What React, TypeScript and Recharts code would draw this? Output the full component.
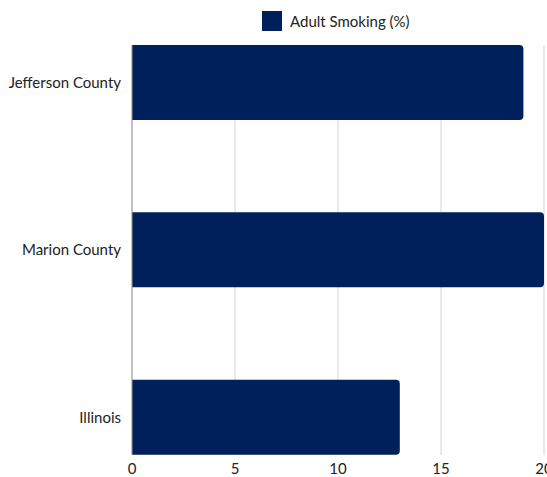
import { BarChart, Bar, XAxis, YAxis, CartesianGrid } from "recharts";

const COUNTIES = ["Jefferson County", "Marion County", "Illinois"];
const SMOKING = [19, 20, 13];
const X_TICKS = [0, 5, 10, 15, 20];

const BAR_COLOR = "#00205b";
const FONT = "Lato, 'Open Sans', sans-serif";

const data = COUNTIES.map((name, i) => ({ name, value: SMOKING[i] }));

export default function App() {
  return (
    <div
      style={{
        position: "absolute",
        left: 0,
        top: 0,
        width: 547,
        height: 477,
        overflow: "hidden",
        background: "#fff",
        fontFamily: FONT,
      }}
    >
      {/* legend */}
      <div
        style={{
          position: "absolute",
          left: 262,
          top: 11,
          display: "flex",
          alignItems: "center",
          fontSize: 15,
          color: "#222",
        }}
      >
        <span
          style={{
            display: "inline-block",
            width: 20,
            height: 20,
            background: BAR_COLOR,
            marginRight: 8,
          }}
        />
        Adult Smoking (%)
      </div>

      <BarChart
        width={570}
        height={477}
        data={data}
        layout="vertical"
        margin={{ top: 45, right: 26, bottom: 0, left: 0 }}
        barSize={75}
      >
        <CartesianGrid horizontal={false} stroke="#d3d3d3" />
        <XAxis
          type="number"
          domain={[0, 20]}
          ticks={X_TICKS}
          axisLine={false}
          tickLine={false}
          tickSize={0}
          tickMargin={8}
          height={22}
          tick={{ fill: "#222", fontSize: 15, fontFamily: FONT }}
        />
        <YAxis
          type="category"
          dataKey="name"
          width={132}
          padding={{ top: -46, bottom: -46 }}
          axisLine={{ stroke: "#999" }}
          tickLine={false}
          tickSize={0}
          tickMargin={11}
          tick={{ fill: "#222", fontSize: 15, fontFamily: FONT }}
        />
        <Bar
          dataKey="value"
          fill={BAR_COLOR}
          radius={[0, 4, 4, 0]}
          isAnimationActive={false}
        />
      </BarChart>
    </div>
  );
}
